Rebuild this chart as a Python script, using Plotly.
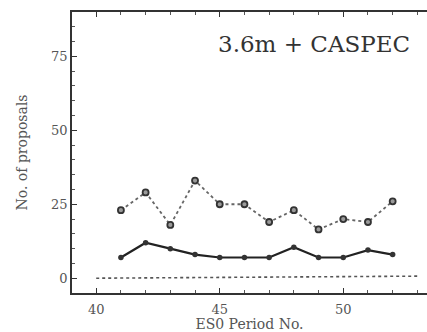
import plotly.graph_objects as go

periods = [41, 42, 43, 44, 45, 46, 47, 48, 49, 50, 51, 52]
submitted = [23, 29, 18, 33, 25, 25, 19, 23, 16.5, 20, 19, 26]
accepted = [7, 12, 10, 8, 7, 7, 7, 10.5, 7, 7, 9.5, 8]
baseline_x = [40, 53]
baseline_y = [0, 0.7]

x_ticks = [40, 45, 50]
y_ticks = [0, 25, 50, 75]

FONT = "DejaVu Serif, Liberation Serif, serif"
GREY = "#555555"

fig = go.Figure()
fig.add_trace(go.Scatter(x=baseline_x, y=baseline_y, mode="lines",
                         line=dict(color="#555555", width=1.6, dash="dot"),
                         hoverinfo="skip"))
fig.add_trace(go.Scatter(x=periods, y=submitted, mode="lines+markers",
                         line=dict(color="#666666", width=1.8, dash="dot"),
                         marker=dict(size=6, color="#9a9a9a",
                                     line=dict(color="#333333", width=1.8))))
fig.add_trace(go.Scatter(x=periods, y=accepted, mode="lines+markers",
                         line=dict(color="#222222", width=2.2),
                         marker=dict(size=5.5, color="#333333")))

fig.add_annotation(x=0.958, y=0.885, xref="paper", yref="paper",
                   text="3.6m + CASPEC", showarrow=False, xanchor="right",
                   yanchor="middle",
                   font=dict(family=FONT, size=23, color="#333333"))

fig.update_layout(
    width=427, height=332,
    margin=dict(l=72, r=0, t=12, b=39),
    paper_bgcolor="white", plot_bgcolor="white",
    showlegend=False,
    font=dict(family=FONT, size=13, color=GREY),
)
fig.update_xaxes(
    range=[39.02, 53.39], tickvals=x_ticks, ticktext=[str(v) for v in x_ticks],
    showgrid=False, zeroline=False,
    showline=True, linecolor="#333333", linewidth=1.5, mirror="allticks",
    ticks="inside", ticklen=5, tickcolor="#333333", tickwidth=1,
    ticklabelstandoff=4,
    minor=dict(dtick=1, tick0=40, ticks="inside", ticklen=3, tickcolor="#555555"),
    title=dict(text="ES0 Period No.", font=dict(family=FONT, size=14, color=GREY), standoff=1),
    tickfont=dict(family=FONT, size=13, color=GREY),
)
fig.update_yaxes(
    range=[-5, 90], tickvals=y_ticks, ticktext=[str(v) for v in y_ticks],
    showgrid=False, zeroline=False,
    showline=True, linecolor="#333333", linewidth=1.5,
    ticks="inside", ticklen=5, tickcolor="#333333", tickwidth=1,
    minor=dict(dtick=5, tick0=0, ticks="inside", ticklen=3, tickcolor="#555555"),
    title=dict(text="No. of proposals", font=dict(family=FONT, size=14, color=GREY), standoff=20),
    tickfont=dict(family=FONT, size=13, color=GREY),
)

fig.write_html("out.html")
